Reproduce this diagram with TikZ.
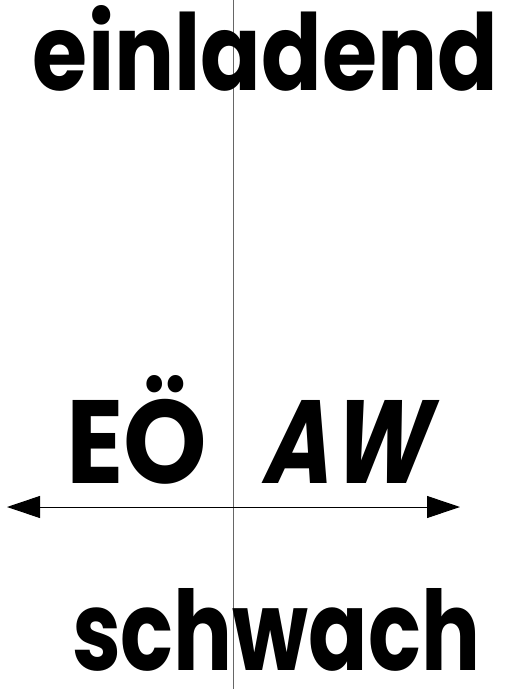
\documentclass[tikz,border=0pt]{standalone}
\usepackage{fontspec}
\setmainfont{Poppins}[BoldFont={* Bold}]
\usetikzlibrary{arrows.meta}
\newlength\mycapht
\tikzset{
  word/.style={inner sep=0pt, outer sep=0pt, anchor=base west, font=\bfseries},
  axis/.style={line width=1pt, black, {Triangle[length=33pt,width=22pt]}-{Triangle[length=33pt,width=22pt]}},
  divider/.style={line width=0.8pt, black!60}
}
\begin{document}
\begin{tikzpicture}[x=1pt,y=1pt]
\useasboundingbox (0,0) rectangle (505,-689);
\coordinate (vtop) at (233,0);
\coordinate (vbot) at (233,-689);
\draw[divider] (vtop) -- (vbot);
\node[word] (top) at (33,-90) {\resizebox{465pt}{85pt}{einladend}};
\node[word] (eo) at (66,-483) {\settoheight{\mycapht}{E}\resizebox{141pt}{83pt}{\raisebox{0pt}[\mycapht][0pt]{EÖ}}};
\node[word, xslant=0.2, transform shape] (aw) at (260,-483) {\resizebox{165pt}{83pt}{AW}};
\node[word] (bottom) at (72,-670) {\resizebox{408pt}{82pt}{schwach}};
\coordinate (aleft) at (7,-507);
\coordinate (aright) at (460,-507);
\draw[axis] (aleft) -- (aright);
\end{tikzpicture}
\end{document}
